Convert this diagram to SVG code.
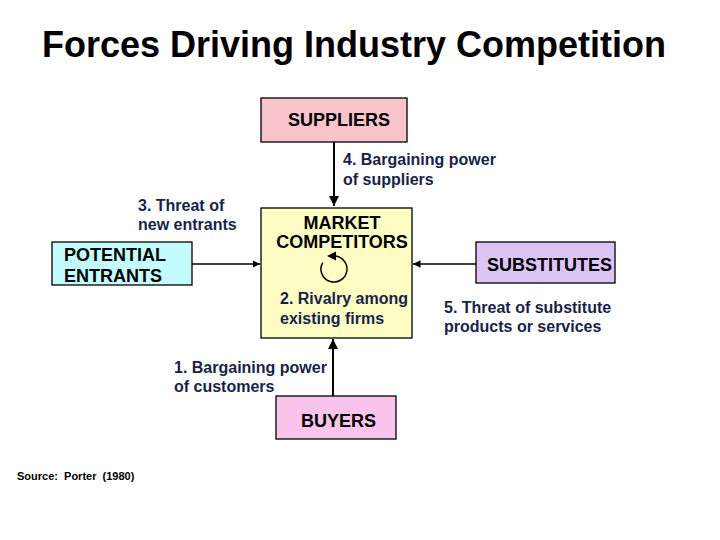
<svg xmlns="http://www.w3.org/2000/svg" width="720" height="540" viewBox="0 0 720 540">
<defs>
<style>
.box{stroke:#000;stroke-width:1.3}
.nt{font-family:"Liberation Sans",Arial,sans-serif;font-weight:bold;font-size:18px;fill:#000}
.lb{font-family:"Liberation Sans",Arial,sans-serif;font-weight:bold;font-size:16px;fill:#1a1f4a}
.ln{stroke:#000;stroke-width:2;fill:none}
</style>
<marker id="ah" viewBox="0 0 10 10" refX="10" refY="5" markerWidth="5" markerHeight="5" orient="auto-start-reverse">
<path d="M0,0 L10,5 L0,10 z" fill="#000"/>
</marker>
</defs>
<rect width="720" height="540" fill="#fff"/>
<text x="354" y="57" text-anchor="middle" font-family="Liberation Sans,Arial,sans-serif" font-weight="bold" font-size="36" fill="#000">Forces Driving Industry Competition</text>

<g id="connectors">
<line class="ln" x1="334" y1="142" x2="334" y2="206" marker-end="url(#ah)"/>
<line class="ln" x1="192" y1="264" x2="260" y2="264" marker-end="url(#ah)" style="stroke-width:1.5"/>
<line class="ln" x1="476" y1="264" x2="413" y2="264" marker-end="url(#ah)" style="stroke-width:1.5"/>
<line class="ln" x1="333" y1="396" x2="333" y2="339" marker-end="url(#ah)"/>
</g>

<g id="suppliers">
<rect class="box" x="261" y="98" width="146" height="44" fill="#f9c3cc"/>
<text class="nt" x="288" y="126">SUPPLIERS</text>
</g>
<g id="label4">
<text class="lb" x="343" y="165">4. Bargaining power</text>
<text class="lb" x="343" y="185">of suppliers</text>
</g>

<g id="entrants">
<rect class="box" x="52" y="242" width="140" height="43" fill="#c4fbfd"/>
<text class="nt" x="64" y="261">POTENTIAL</text>
<text class="nt" x="64" y="282">ENTRANTS</text>
</g>
<g id="label3">
<text class="lb" x="138" y="211">3. Threat of</text>
<text class="lb" x="138" y="230">new entrants</text>
</g>

<g id="market">
<rect class="box" x="261" y="208" width="151" height="130" fill="#fdfdc4"/>
<text class="nt" x="342" y="229" text-anchor="middle">MARKET</text>
<text class="nt" x="342" y="248" text-anchor="middle">COMPETITORS</text>
<path d="M322.7,262.5 A13,13 0 1 0 334,256" fill="none" stroke="#000" stroke-width="1.5"/>
<path d="M327,256 L336,251.5 L336,260.5 z" fill="#000"/>
<text class="lb" x="280" y="304">2. Rivalry among</text>
<text class="lb" x="280" y="324">existing firms</text>
</g>

<g id="substitutes">
<rect class="box" x="476" y="242" width="139" height="41" fill="#dcc4f5"/>
<text class="nt" x="487" y="271">SUBSTITUTES</text>
</g>
<g id="label5">
<text class="lb" x="444" y="313">5. Threat of substitute</text>
<text class="lb" x="444" y="332">products or services</text>
</g>

<g id="buyers">
<rect class="box" x="276" y="396" width="120" height="43" fill="#f9c3ec"/>
<text class="nt" x="301" y="427">BUYERS</text>
</g>
<g id="label1">
<text class="lb" x="174" y="373">1. Bargaining power</text>
<text class="lb" x="174" y="392">of customers</text>
</g>

<text x="17" y="480" font-family="Liberation Sans,Arial,sans-serif" font-weight="bold" font-size="11" fill="#000" style="white-space:pre">Source:  Porter  (1980)</text>
</svg>
